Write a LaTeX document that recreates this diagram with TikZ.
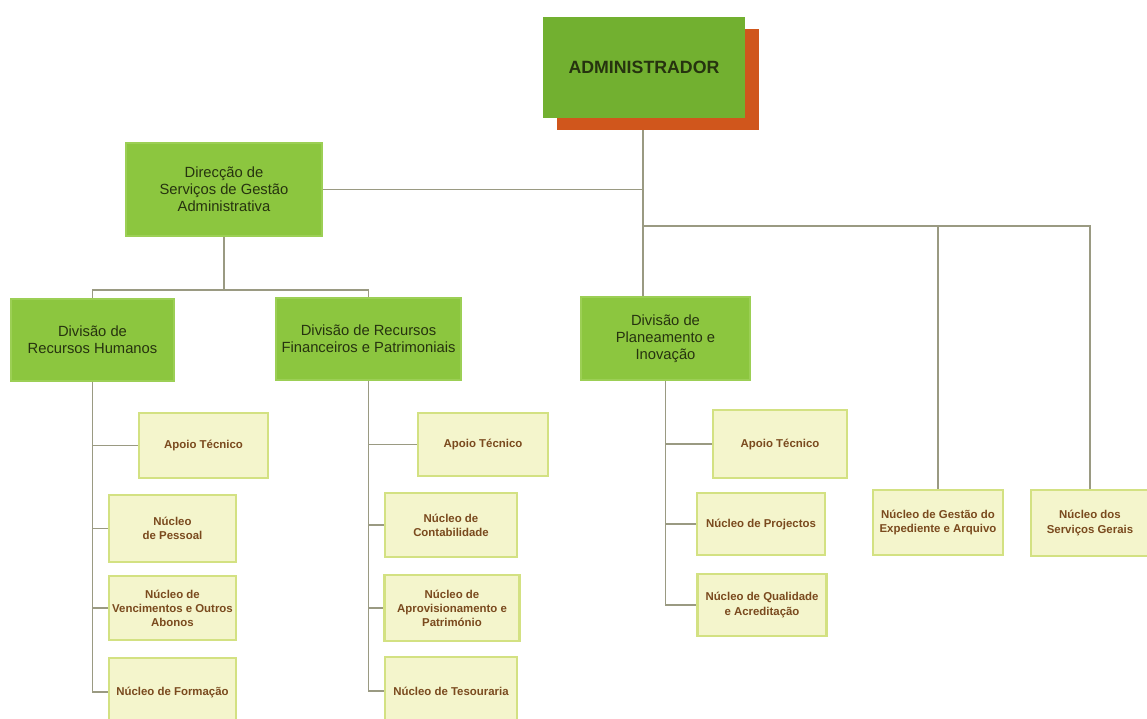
\documentclass[tikz,border=0pt]{standalone}
\usepackage{fontspec}
\setmainfont{Liberation Sans}
\usetikzlibrary{shadows}

\definecolor{admingreen}{HTML}{72B030}
\definecolor{adminorange}{HTML}{D0561C}
\definecolor{divgreen}{HTML}{8CC63F}
\definecolor{divedge}{HTML}{9CCF55}
\definecolor{divtext}{HTML}{26330F}
\definecolor{nucfill}{HTML}{F4F5CC}
\definecolor{nucedge}{HTML}{D3E182}
\definecolor{nuctext}{HTML}{7A4A1E}
\definecolor{linkgrey}{HTML}{9A9A82}

\tikzset{
  adminbox/.style={rectangle, fill=admingreen, draw=none, inner sep=0pt,
    minimum width=4.04cm, minimum height=2.02cm, text=divtext,
    font=\fontsize{10.1}{12}\selectfont\bfseries,
    drop shadow={shadow xshift=0.28cm, shadow yshift=-0.24cm, fill=adminorange, opacity=1}},
  divbox/.style={rectangle, fill=divgreen, draw=divedge, line width=1pt, inner sep=0pt,
    align=center, text=divtext, font=\fontsize{8.4}{9.6}\selectfont},
  nucbox/.style={rectangle, fill=nucfill, draw=nucedge, line width=1.5pt, inner sep=0pt,
    align=center, text=nuctext, font=\fontsize{6.5}{8}\selectfont\bfseries},
  link/.style={draw=linkgrey, line width=0.6pt}
}

\begin{document}
\begin{tikzpicture}[x=0.02cm, y=-0.02cm]
  \useasboundingbox (0,0) rectangle (1147,718);

  % Top level
  \node[adminbox] (admin) at (644,67.5) {ADMINISTRADOR};
  \node[divbox, minimum width=3.92cm, minimum height=1.86cm] (dir) at (224,189.5) {Direcção de\\Serviços de Gestão\\Administrativa};

  % Divisions
  \node[divbox, minimum width=3.26cm, minimum height=1.64cm] (rh) at (92.5,340) {Divisão de\\Recursos Humanos};
  \node[divbox, minimum width=3.70cm, minimum height=1.64cm] (rfp) at (368.5,339) {Divisão de Recursos\\Financeiros e Patrimoniais};
  \node[divbox, minimum width=3.38cm, minimum height=1.66cm] (pi) at (665.5,338.5) {Divisão de\\Planeamento e\\Inovação};

  % Nuclei under Recursos Humanos
  \node[nucbox, minimum width=2.58cm, minimum height=1.30cm] (apoio1) at (203.5,445.5) {Apoio Técnico};
  \node[nucbox, minimum width=2.54cm, minimum height=1.34cm] (pessoal) at (172.5,528.5) {Núcleo\\de Pessoal};
  \node[nucbox, minimum width=2.54cm, minimum height=1.28cm] (venc) at (172.5,608) {Núcleo de\\Vencimentos e Outros\\Abonos};
  \node[nucbox, minimum width=2.54cm, minimum height=1.36cm] (form) at (172.5,692) {Núcleo de Formação};

  % Nuclei under Recursos Financeiros
  \node[nucbox, minimum width=2.60cm, minimum height=1.26cm] (apoio2) at (483,444.5) {Apoio Técnico};
  \node[nucbox, minimum width=2.64cm, minimum height=1.28cm] (contab) at (451,525) {Núcleo de\\Contabilidade};
  \node[nucbox, minimum width=2.70cm, minimum height=1.32cm] (aprov) at (452,608) {Núcleo de\\Aprovisionamento e\\Património};
  \node[nucbox, minimum width=2.64cm, minimum height=1.36cm] (tes) at (451,691) {Núcleo de Tesouraria};

  % Nuclei under Planeamento
  \node[nucbox, minimum width=2.68cm, minimum height=1.36cm] (apoio3) at (780,444) {Apoio Técnico};
  \node[nucbox, minimum width=2.56cm, minimum height=1.24cm] (proj) at (761,524) {Núcleo de Projectos};
  \node[nucbox, minimum width=2.58cm, minimum height=1.24cm] (qual) at (762,605) {Núcleo de Qualidade\\e Acreditação};

  % Nuclei under Administrador
  \node[nucbox, minimum width=2.60cm, minimum height=1.30cm] (exped) at (938,522.5) {Núcleo de Gestão do\\Expediente e Arquivo};
  \node[nucbox, minimum width=2.36cm, minimum height=1.32cm] (sg) at (1090,523) {Núcleo dos\\Serviços Gerais};

  % Connectors from the top
  \coordinate (adminfoot) at (643,130);
  \coordinate (bus) at (643,226);
  \coordinate (dirbus) at (224,290);
  \draw[link] (adminfoot) -- (adminfoot |- pi.north);
  \draw[link] (dir.east) -- (dir.east -| adminfoot);
  \draw[link] (bus) -| (exped.north);
  \draw[link] (bus) -| (sg.north);
  \draw[link] (dir.south) -- (dirbus);
  \draw[link] (dirbus) -| (rh.north);
  \draw[link] (dirbus) -| (rfp.north);

  % Connectors to the nuclei
  \foreach \n in {apoio1, pessoal, venc, form}
    \draw[link] (rh.south) |- (\n.west);
  \foreach \n in {apoio2, contab, aprov, tes}
    \draw[link] (rfp.south) |- (\n.west);
  \foreach \n in {apoio3, proj, qual}
    \draw[link] (pi.south) |- (\n.west);
\end{tikzpicture}
\end{document}
